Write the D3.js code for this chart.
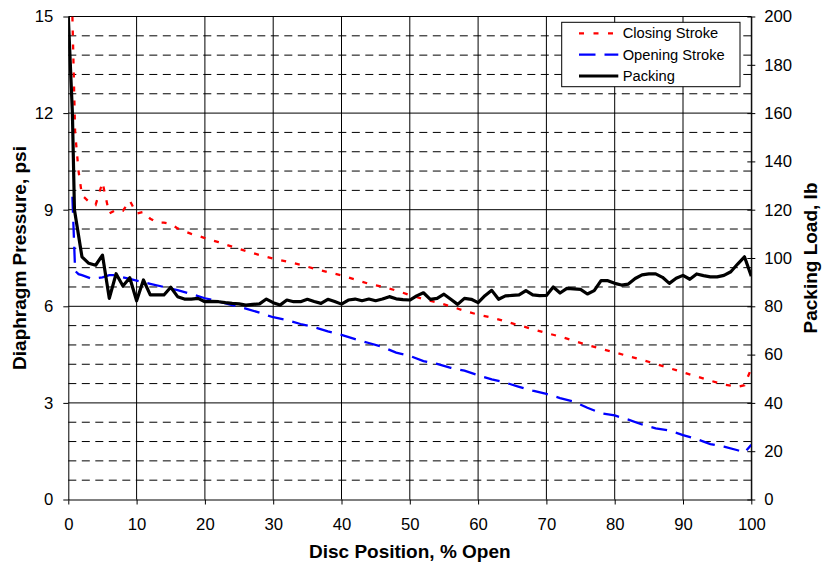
<!DOCTYPE html>
<html>
<head>
<meta charset="utf-8">
<script src="https://cdn.jsdelivr.net/npm/d3@7"></script>
<style>
  body { margin: 0; background: #fff; }
  svg { display: block; }
  text { font-family: Arial, "Liberation Sans", sans-serif; fill: #000; }
</style>
</head>
<body>
<svg id="chart" width="823" height="565"></svg>
<script>
// Packing load (lb, right axis) against disc position (% open)
const packingPos = [0, 0.6, 0.9, 2, 3, 4, 5, 6, 7, 8, 9, 10, 11, 12, 13, 14, 15, 16, 17, 18, 19,
  20, 21, 22, 23, 24, 25, 26, 27, 28, 29, 30, 31, 32, 33, 34, 35, 36, 37, 38, 39,
  40, 41, 42, 43, 44, 45, 46, 47, 48, 49, 50, 51, 52, 53, 54, 55, 56, 57, 58, 59,
  60, 61, 62, 63, 64, 65, 66, 67, 68, 69, 70, 71, 72, 73, 74, 75, 76, 77, 78, 79,
  80, 81, 82, 83, 84, 85, 86, 87, 88, 89, 90, 91, 92, 93, 94, 95, 96, 97, 98, 99, 100];
const packingLoad = [200, 160, 120, 100.5, 97.8, 97, 101.2, 83.3, 93.5, 88.4, 91.8, 82.3, 90.9, 84.7, 84.7, 84.7, 87.9, 84, 83, 83, 83.3,
  81.9, 82, 81.9, 81.5, 81.2, 81, 80.5, 80.8, 81, 83, 81.5, 80.5, 82.6, 81.9, 81.9, 82.9, 82, 81.2, 82.9, 82,
  80.9, 82.6, 83, 82.3, 83, 82.3, 83, 84, 83.1, 82.8, 82.6, 84.3, 85.6, 82.9, 83.3, 85, 82.9, 80.8, 83.3, 82.9,
  81.5, 84.4, 86.6, 82.9, 84.3, 84.5, 84.7, 86.5, 84.7, 84.4, 84.5, 88, 85.5, 87.4, 87.2, 87, 85.1, 86.5, 90.6, 90.6,
  89.5, 88.8, 89.2, 91.5, 93, 93.4, 93.4, 92, 89.5, 91.6, 92.8, 91.2, 93.4, 92.7, 92.2, 92.2, 92.8, 94.3, 97.5, 100.5, 92.5];

// Diaphragm pressure on the closing stroke (psi, left axis)
const closingPos = [0.6, 1, 1.5, 2, 3, 4, 5, 6, 7, 8, 9, 10, 11, 12, 13, 14, 15, 16, 17, 18, 19,
  20, 22, 24, 26, 28, 30, 32, 34, 36, 38, 40, 42, 44, 46, 48, 50, 52, 54, 56, 58,
  60, 62, 64, 66, 68, 70, 72, 74, 76, 78, 80, 82, 84, 86, 88, 90, 92, 94, 96, 98, 99, 100];
const closingPsi = [15, 11.4, 10.2, 9.45, 9.25, 9.15, 9.85, 8.88, 9.0, 8.97, 9.28, 8.88, 8.93, 8.72, 8.6, 8.6, 8.56, 8.42, 8.33, 8.25, 8.19,
  8.12, 7.99, 7.85, 7.72, 7.59, 7.48, 7.39, 7.29, 7.17, 7.06, 6.96, 6.83, 6.70, 6.61, 6.49, 6.35, 6.22, 6.12, 6.0, 5.86,
  5.74, 5.65, 5.53, 5.41, 5.29, 5.17, 5.06, 4.93, 4.80, 4.68, 4.57, 4.45, 4.34, 4.21, 4.08, 3.95, 3.82, 3.69, 3.57, 3.50, 3.55, 4.07];

// Diaphragm pressure on the opening stroke (psi, left axis)
const openingPos = [0.6, 1, 1.5, 2, 3.5, 5, 6, 7, 8, 9, 10, 12, 14, 16, 18,
  20, 22, 24, 26, 28, 30, 32, 34, 36, 38, 40, 42, 44, 46, 48, 50, 52, 54, 56, 58,
  60, 62, 64, 66, 68, 70, 72, 74, 76, 78, 80, 82, 84, 86, 88, 90, 92, 94, 96, 98, 99, 100];
const openingPsi = [9.4, 7.1, 7.0, 6.97, 6.85, 6.9, 6.97, 6.97, 6.9, 6.85, 6.8, 6.7, 6.6, 6.5, 6.38,
  6.25, 6.15, 6.04, 5.93, 5.8, 5.66, 5.57, 5.45, 5.35, 5.22, 5.11, 4.98, 4.86, 4.74, 4.56, 4.46, 4.3, 4.21, 4.09, 4.0,
  3.86, 3.73, 3.63, 3.5, 3.38, 3.28, 3.15, 3.04, 2.85, 2.68, 2.61, 2.48, 2.33, 2.21, 2.14, 2.0, 1.88, 1.72, 1.64, 1.53, 1.45, 1.7];

// Tick values
const xTicks = [0, 10, 20, 30, 40, 50, 60, 70, 80, 90, 100];
const psiTicks = [0, 3, 6, 9, 12, 15];
const lbTicks = [0, 20, 40, 60, 80, 100, 120, 140, 160, 180, 200];
const psiMinor = d3.range(0, 25).map(i => i * 0.6).filter((v, i) => i % 5 !== 0);

const seriesNames = ["Closing Stroke", "Opening Stroke", "Packing"];

const svg = d3.select("#chart");
const plotLeft = 68.3, plotRight = 751.3, plotTop = 16.5, plotBottom = 499.5;

const x = d3.scaleLinear().domain([0, 100]).range([plotLeft, plotRight]);
const yL = d3.scaleLinear().domain([0, 15]).range([plotBottom, plotTop]);
const yR = d3.scaleLinear().domain([0, 200]).range([plotBottom, plotTop]);

// Gridlines
const grid = svg.append("g").attr("stroke", "#000").attr("stroke-width", 1);
grid.selectAll("line.minor").data(psiMinor).join("line")
  .attr("class", "minor")
  .attr("x1", plotLeft).attr("x2", plotRight)
  .attr("y1", d => yL(d)).attr("y2", d => yL(d))
  .attr("stroke-dasharray", "8,5.5");
grid.selectAll("line.hmajor").data(psiTicks.slice(1)).join("line")
  .attr("class", "hmajor")
  .attr("x1", plotLeft).attr("x2", plotRight)
  .attr("y1", d => yL(d)).attr("y2", d => yL(d));
grid.selectAll("line.vmajor").data(xTicks.slice(1)).join("line")
  .attr("class", "vmajor")
  .attr("x1", d => x(d)).attr("x2", d => x(d))
  .attr("y1", plotTop).attr("y2", plotBottom);

// Series
svg.append("clipPath").attr("id", "plot-clip")
  .append("rect").attr("x", plotLeft).attr("y", plotTop)
  .attr("width", plotRight - plotLeft).attr("height", plotBottom - plotTop);

const plot = svg.append("g").attr("clip-path", "url(#plot-clip)").attr("fill", "none");
const lineL = d3.line().x(d => x(d[0])).y(d => yL(d[1]));
const lineR = d3.line().x(d => x(d[0])).y(d => yR(d[1]));

plot.append("path")
  .datum(d3.zip(closingPos, closingPsi))
  .attr("d", lineL)
  .attr("stroke", "#ff0000").attr("stroke-width", 2.3)
  .attr("stroke-dasharray", "5,9");
plot.append("path")
  .datum(d3.zip(openingPos, openingPsi))
  .attr("d", lineL)
  .attr("stroke", "#0000ff").attr("stroke-width", 2.3)
  .attr("stroke-dasharray", "16,9");
plot.append("path")
  .datum(d3.zip(packingPos, packingLoad))
  .attr("d", lineR)
  .attr("stroke", "#000").attr("stroke-width", 3.2)
  .attr("stroke-linejoin", "round");

// Axes
const tickFont = 16.7;
const axL = svg.append("g").attr("transform", `translate(${plotLeft},0)`)
  .call(d3.axisLeft(yL).tickValues(psiTicks).tickSize(5).tickSizeOuter(0).tickPadding(10));
const axR = svg.append("g").attr("transform", `translate(${plotRight},0)`)
  .call(d3.axisRight(yR).tickValues(lbTicks).tickSize(4).tickSizeOuter(0).tickPadding(9));
axR.selectAll(".tick line").attr("x1", -4);
const axB = svg.append("g").attr("transform", `translate(0,${plotBottom})`)
  .call(d3.axisBottom(x).tickValues(xTicks).tickSize(5).tickSizeOuter(0).tickPadding(14));

[axL, axR, axB].forEach(a => {
  a.selectAll("path.domain").attr("stroke", "#000");
  a.selectAll(".tick line").attr("stroke", "#000");
  a.selectAll("text").attr("font-size", tickFont).attr("font-family", null).attr("fill", "#000");
});

// Axis titles
svg.append("text")
  .attr("x", (plotLeft + plotRight) / 2).attr("y", 558)
  .attr("text-anchor", "middle").attr("font-size", 19).attr("font-weight", "bold")
  .text("Disc Position, % Open");
svg.append("text")
  .attr("transform", `translate(25.5,${(plotTop + plotBottom) / 2}) rotate(-90)`)
  .attr("text-anchor", "middle").attr("font-size", 19).attr("font-weight", "bold")
  .text("Diaphragm Pressure, psi");
svg.append("text")
  .attr("transform", `translate(817,${(plotTop + plotBottom) / 2}) rotate(-90)`)
  .attr("text-anchor", "middle").attr("font-size", 19).attr("font-weight", "bold")
  .text("Packing Load, lb");

// Legend
const legend = svg.append("g");
legend.append("rect")
  .attr("x", 561.7).attr("y", 22.3).attr("width", 178.3).attr("height", 64.4)
  .attr("fill", "#fff").attr("stroke", "#000").attr("stroke-width", 1);
const legendStyles = [
  { color: "#ff0000", width: 2.3, dash: "5,9.5" },
  { color: "#0000ff", width: 2.3, dash: "16.5,9" },
  { color: "#000", width: 3.2, dash: null }
];
const rowY = [33.3, 54.6, 76];
seriesNames.forEach((name, i) => {
  const s = legendStyles[i];
  legend.append("line")
    .attr("x1", 579).attr("x2", 618.3)
    .attr("y1", rowY[i]).attr("y2", rowY[i])
    .attr("stroke", s.color).attr("stroke-width", s.width)
    .attr("stroke-dasharray", s.dash);
  legend.append("text")
    .attr("x", 622.7).attr("y", rowY[i]).attr("dy", "0.35em")
    .attr("font-size", 14.7)
    .text(name);
});
</script>
</body>
</html>
